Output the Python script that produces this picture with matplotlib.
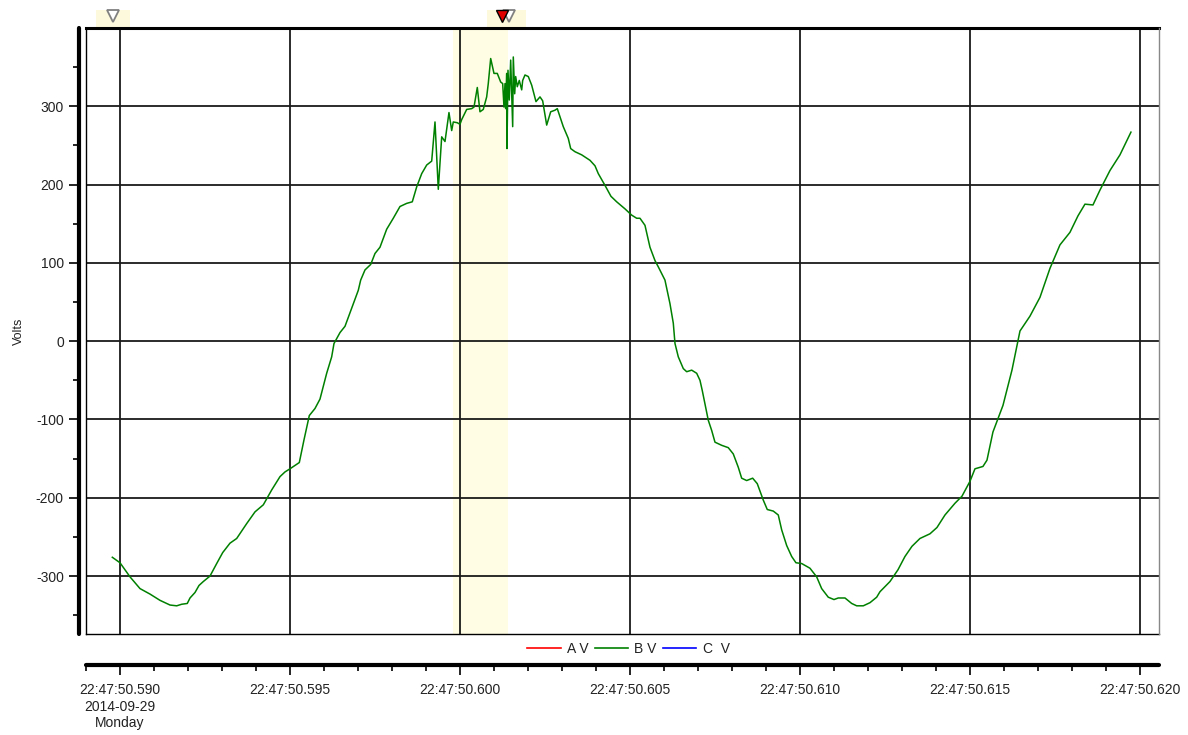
import numpy as np
import matplotlib
matplotlib.use("Agg")
import matplotlib.pyplot as plt
from matplotlib.lines import Line2D
from matplotlib.patches import Rectangle
import matplotlib.transforms as mtransforms

plt.rcParams['font.family'] = ['Liberation Sans', 'DejaVu Sans']

# zaman: 22:47:50.590'dan sonra geçen milisaniye
t_ms = [-0.226, 0.0, 0.294, 0.588, 0.882, 1.176, 1.471, 1.668, 1.815, 1.979,
        2.059, 2.206, 2.324, 2.450, 2.647, 2.844, 3.021, 3.235, 3.432, 3.726,
        3.971, 4.215, 4.462, 4.706, 4.853, 5.0, 5.274, 5.412, 5.568, 5.735,
        5.882, 6.079, 6.226, 6.294, 6.471, 6.618, 6.815, 7.009, 7.079, 7.206,
        7.374, 7.5, 7.647, 7.844, 8.038, 8.235, 8.432, 8.597, 8.726, 8.874,
        9.021, 9.168, 9.265, 9.362, 9.462, 9.559, 9.676, 9.756, 9.803, 9.921,
        10.0, 10.05, 10.197, 10.344, 10.412, 10.509, 10.588, 10.685, 10.785, 10.832,
        10.903, 11.0, 11.097, 11.197, 11.256, 11.294, 11.324, 11.344, 11.374, 11.382,
        11.412, 11.45, 11.491, 11.521, 11.55, 11.568, 11.609, 11.638, 11.685, 11.744,
        11.815, 11.844, 11.912, 12.009, 12.109, 12.235, 12.353, 12.432, 12.55, 12.668,
        12.794, 12.862, 13.038, 13.185, 13.256, 13.382, 13.579, 13.824, 13.971, 14.068,
        14.265, 14.441, 14.609, 14.853, 15.05, 15.197, 15.294, 15.441, 15.588, 15.735,
        15.832, 16.029, 16.176, 16.274, 16.324, 16.421, 16.568, 16.668, 16.815, 16.962,
        17.059, 17.126, 17.206, 17.303, 17.403, 17.5, 17.697, 17.891, 18.038, 18.185,
        18.285, 18.432, 18.609, 18.744, 18.921, 19.038, 19.215, 19.362, 19.462, 19.609,
        19.756, 19.882, 20.05, 20.294, 20.491, 20.638, 20.832, 21.0, 21.126, 21.324,
        21.521, 21.668, 21.862, 22.059, 22.256, 22.353, 22.647, 22.882, 23.088, 23.294,
        23.529, 23.824, 24.029, 24.265, 24.559, 24.765, 25.0, 25.147, 25.382, 25.5,
        25.676, 25.971, 26.235, 26.471, 26.765, 27.059, 27.353, 27.647, 27.941, 28.176,
        28.382, 28.618, 28.824, 29.118, 29.412, 29.647, 29.735]

b_volts = [-276, -283, -301, -316, -323, -331, -337, -338, -336, -335,
           -328, -321, -312, -307, -300, -284, -270, -258, -252, -233,
           -218, -209, -190, -173, -167, -163, -155, -126, -95, -86,
           -74, -41, -20, -3, 11, 19, 42, 65, 78, 91,
           98, 112, 120, 143, 157, 172, 176, 178, 197, 214,
           225, 230, 280, 194, 261, 255, 292, 269, 280, 279,
           277, 283, 296, 297, 299, 324, 293, 296, 312, 329,
           361, 342, 342, 331, 329, 299, 329, 297, 342, 246,
           346, 308, 359, 316, 274, 363, 316, 338, 325, 333,
           321, 333, 340, 338, 327, 306, 312, 307, 276, 293,
           295, 297, 274, 259, 246, 242, 238, 231, 224, 214,
           199, 185, 178, 169, 161, 157, 157, 148, 120, 103,
           95, 78, 48, 23, -3, -20, -35, -39, -37, -41,
           -50, -63, -80, -101, -114, -129, -133, -136, -144, -161,
           -175, -178, -175, -182, -203, -215, -217, -222, -241, -261,
           -275, -283, -284, -290, -301, -316, -327, -330, -328, -328,
           -335, -338, -338, -334, -327, -320, -307, -292, -275, -262,
           -252, -246, -238, -222, -207, -198, -179, -163, -160, -152,
           -116, -82, -37, 13, 32, 56, 93, 123, 139, 160,
           175, 174, 193, 218, 238, 259, 267]

series_names = ["A V", "B V", "C  V"]
series_colors = ["#ff0000", "#008000", "#0000ff"]

highlight = (9.79, 11.41)          # sarı seçili aralık (ms)
cursor_gray = [-0.206, 11.44]       # gri imleçler
cursor_red = [11.25]                # kırmızı imleç

x_ticks = [0, 5, 10, 15, 20, 25, 30]
y_ticks = [-300, -200, -100, 0, 100, 200, 300]
date_line = "2014-09-29"
day_line = "Monday"


def main():
    fig = plt.figure(figsize=(11.88, 7.35), dpi=100)
    ax = fig.add_axes([86/1188, 1-634/735, (1159-86)/1188, (634-28)/735])

    ax.set_xlim(-1.0, 30.56)
    ax.set_ylim(-374, 400)

    ax.axvspan(highlight[0], highlight[1], color="#fffde3", lw=0)

    ax.plot(t_ms, b_volts, color=series_colors[1], lw=1.1, zorder=3)

    # eksenler
    ax.set_xticks(x_ticks)
    ax.set_xticks(np.arange(-1, 31, 1), minor=True)
    ax.set_yticks(y_ticks)
    ax.set_yticks(np.arange(-350, 351, 100), minor=True)
    labels = ["22:47:50.%03d" % (590 + t) for t in x_ticks]
    labels[0] = labels[0] + "\n" + date_line + "\n" + day_line
    ax.set_xticklabels(labels)
    ax.set_yticklabels([str(v) for v in y_ticks])
    for lbl in ax.get_xticklabels():
        lbl.set_linespacing(1.6)

    ax.grid(True, which="major", color="#1a1a1a", lw=1.3)
    ax.tick_params(which="major", length=7.5, width=1.2, labelsize=10,
                   labelcolor="#222222", pad=3.5)
    ax.tick_params(axis="x", which="major", pad=5.5)
    ax.tick_params(which="minor", length=4.5, width=1.2)

    for s in ["top", "right"]:
        ax.spines[s].set_visible(False)
    ax.spines["left"].set_position(("outward", 5))
    ax.spines["left"].set_linewidth(3)
    ax.spines["left"].set_capstyle("round")
    ax.spines["bottom"].set_position(("outward", 22.5))
    ax.spines["bottom"].set_linewidth(3)
    ax.spines["bottom"].set_capstyle("round")

    # çizim alanı çerçevesi
    ax.plot([0, 1], [1, 1], transform=ax.transAxes, color="black", lw=2.2, clip_on=False, zorder=5)
    ax.plot([0, 0], [0, 1], transform=ax.transAxes, color="black", lw=1.0, clip_on=False, zorder=5)
    ax.plot([0, 1], [0, 0], transform=ax.transAxes, color="black", lw=1.0, clip_on=False, zorder=5)
    ax.plot([1, 1], [0, 1], transform=ax.transAxes, color="#888888", lw=1.0, clip_on=False, zorder=5)

    ax.set_ylabel("Volts", fontsize=9, color="#222222", labelpad=8)

    # üstteki imleçler
    trans = mtransforms.blended_transform_factory(ax.transData, ax.transAxes)
    for x0, x1 in [(-0.7, 0.3), (10.8, 11.95)]:
        ax.add_patch(Rectangle((x0, 1.002), x1 - x0, 0.028, transform=trans,
                               color="#fdf9dc", lw=0, clip_on=False, zorder=4))
    ax.plot(cursor_gray, [1.02] * len(cursor_gray), transform=trans, ls="none",
            marker="v", ms=8, mfc="white", mec="#808080", mew=1.3, clip_on=False, zorder=6)
    ax.plot(cursor_red, [1.02], transform=trans, ls="none",
            marker="v", ms=8, mfc="#e00000", mec="black", mew=1.0, clip_on=False, zorder=7)

    # gösterge
    handles = [Line2D([], [], color=c, lw=1.2) for c in series_colors]
    fig.legend(handles, series_names, loc="center", bbox_to_anchor=(0.529, 1 - 649/735),
               ncol=3, frameon=False, fontsize=10, handlelength=2.4,
               handletextpad=0.45, columnspacing=0.45, labelcolor="#222222")

    fig.savefig("out.png", dpi=100)


if __name__ == "__main__":
    main()
